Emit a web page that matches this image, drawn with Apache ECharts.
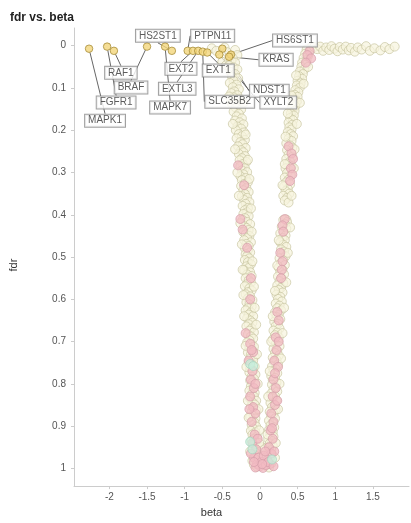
<!DOCTYPE html>
<html>
<head>
<meta charset="UTF-8">
<title>fdr vs. beta</title>
<script src="https://cdn.jsdelivr.net/npm/echarts@6.0.0/dist/echarts.min.js"></script>
<style>
html, body { margin: 0; padding: 0; background: #fff; }
#chart { width: 411px; height: 523px; }
</style>
</head>
<body>
<div id="chart"></div>
<script>
// labelled hits
var hitGenes = ['MAPK1', 'FGFR1', 'RAF1', 'BRAF', 'MAPK7', 'HS2ST1', 'PTPN11', 'EXT2', 'EXTL3', 'SLC35B2', 'EXT1', 'HS6ST1', 'KRAS', 'NDST1', 'XYLT2'];
var hitBeta = [-2.27, -2.03, -1.94, -1.50, -1.26, -1.17, -0.96, -0.89, -0.82, -0.76, -0.70, -0.385, -0.41, -0.50, -0.54];
var hitFdr = [0.007, 0.002, 0.012, 0.002, 0.002, 0.012, 0.012, 0.012, 0.012, 0.014, 0.016, 0.021, 0.026, 0.007, 0.021];

// other genes [beta, fdr]
var beigePts = [
  // near hits
  [-0.64,0.006],[-0.58,0.012],[-0.47,0.004],[-0.44,0.015],[-0.33,0.010],[-0.30,0.022],[-0.36,0.030],[-0.50,0.038],[-0.45,0.046],[-0.41,0.033],
  // left arm
  [-0.38,0.036],[-0.33,0.040],[-0.41,0.047],[-0.35,0.051],[-0.30,0.056],[-0.39,0.062],[-0.33,0.067],[-0.37,0.073],[-0.29,0.077],[-0.35,0.083],[-0.40,0.088],[-0.31,0.092],[-0.36,0.098],[-0.28,0.103],[-0.34,0.108],
  [-0.38,0.112],[-0.30,0.117],[-0.35,0.122],[-0.27,0.127],[-0.33,0.131],[-0.37,0.137],[-0.29,0.141],[-0.32,0.147],[-0.25,0.151],[-0.35,0.156],[-0.28,0.161],[-0.31,0.167],[-0.24,0.172],[-0.33,0.177],[-0.27,0.181],[-0.22,0.186],[-0.30,0.191],[-0.25,0.196],[-0.32,0.200],
  [-0.21,0.205],[-0.28,0.209],[-0.24,0.214],[-0.31,0.219],[-0.20,0.223],[-0.26,0.228],[-0.23,0.233],[-0.29,0.238],[-0.19,0.242],[-0.25,0.247],[-0.22,0.252],[-0.28,0.256],[-0.20,0.261],[-0.24,0.266],[-0.27,0.271],[-0.18,0.275],[-0.23,0.280],[-0.26,0.285],[-0.20,0.290],[-0.24,0.295],[-0.17,0.299],
  [-0.22,0.304],[-0.26,0.309],[-0.19,0.313],[-0.24,0.318],[-0.16,0.323],[-0.21,0.327],[-0.25,0.332],[-0.18,0.337],[-0.22,0.342],[-0.15,0.346],[-0.20,0.351],[-0.24,0.356],[-0.17,0.360],[-0.21,0.365],[-0.14,0.370],[-0.19,0.374],[-0.23,0.379],[-0.16,0.384],[-0.20,0.389],[-0.17,0.394],[-0.22,0.398],
  [-0.15,0.403],[-0.20,0.408],[-0.23,0.412],[-0.17,0.417],[-0.13,0.422],[-0.21,0.427],[-0.18,0.431],[-0.15,0.436],[-0.22,0.441],[-0.19,0.446],[-0.14,0.450],[-0.17,0.455],[-0.21,0.460],[-0.12,0.465],[-0.18,0.469],[-0.15,0.474],[-0.20,0.479],[-0.16,0.484],[-0.13,0.489],[-0.19,0.493],[-0.17,0.498],
  [-0.14,0.503],[-0.20,0.507],[-0.16,0.512],[-0.12,0.517],[-0.18,0.522],[-0.15,0.526],[-0.21,0.531],[-0.13,0.536],[-0.17,0.541],[-0.11,0.545],[-0.19,0.550],[-0.15,0.555],[-0.12,0.560],[-0.17,0.564],[-0.20,0.569],[-0.14,0.574],[-0.11,0.579],[-0.16,0.583],[-0.19,0.588],[-0.13,0.593],[-0.16,0.598],
  [-0.10,0.602],[-0.18,0.607],[-0.14,0.612],[-0.11,0.617],[-0.16,0.621],[-0.19,0.626],[-0.12,0.631],[-0.15,0.636],[-0.09,0.640],[-0.17,0.645],[-0.13,0.650],[-0.10,0.655],[-0.15,0.659],[-0.18,0.664],[-0.11,0.669],[-0.14,0.674],[-0.08,0.678],[-0.16,0.683],[-0.12,0.688],[-0.09,0.693],[-0.14,0.697],
  [-0.17,0.702],[-0.11,0.707],[-0.08,0.712],[-0.14,0.716],[-0.10,0.721],[-0.16,0.726],[-0.12,0.731],[-0.07,0.735],[-0.13,0.740],[-0.09,0.745],[-0.15,0.750],[-0.11,0.754],[-0.07,0.759],[-0.13,0.764],[-0.09,0.769],[-0.14,0.773],[-0.06,0.778],[-0.11,0.783],[-0.08,0.788],[-0.13,0.792],[-0.10,0.797],
  [-0.06,0.802],[-0.12,0.806],[-0.09,0.811],[-0.14,0.816],[-0.07,0.821],[-0.11,0.825],[-0.08,0.830],[-0.13,0.835],[-0.05,0.840],[-0.10,0.844],[-0.07,0.849],[-0.12,0.854],[-0.09,0.859],[-0.05,0.863],[-0.11,0.868],[-0.08,0.873],[-0.13,0.878],[-0.06,0.882],[-0.10,0.887],[-0.07,0.892],[-0.11,0.897],
  [-0.05,0.901],[-0.09,0.906],[-0.12,0.911],[-0.06,0.915],[-0.10,0.920],[-0.04,0.925],[-0.08,0.930],[-0.11,0.934],[-0.06,0.939],[-0.09,0.944],[-0.04,0.949],[-0.07,0.953],[-0.10,0.958],[-0.05,0.963],[-0.08,0.968],[-0.03,0.972],[-0.07,0.977],[-0.10,0.982],[-0.05,0.987],[-0.08,0.991],[-0.04,0.996],
  // left arm edges
  [-0.41,0.120],[-0.22,0.135],[-0.36,0.185],[-0.19,0.210],[-0.33,0.245],[-0.16,0.270],[-0.30,0.300],[-0.14,0.315],[-0.28,0.355],[-0.12,0.385],[-0.26,0.420],[-0.11,0.440],[-0.24,0.470],[-0.10,0.510],[-0.23,0.530],[-0.08,0.570],[-0.22,0.590],[-0.07,0.620],[-0.21,0.640],[-0.05,0.660],[-0.19,0.710],[-0.04,0.730],[-0.18,0.760],[-0.03,0.800],[-0.16,0.840],[-0.02,0.860],[-0.15,0.880],[-0.01,0.910],[-0.13,0.960],
  // right arm
  [0.68,0.004],[0.62,0.009],[0.66,0.014],[0.60,0.019],[0.64,0.024],[0.58,0.029],[0.62,0.034],[0.56,0.040],[0.61,0.045],[0.55,0.050],[0.59,0.056],[0.53,0.061],[0.57,0.067],[0.52,0.072],[0.56,0.078],[0.50,0.083],[0.54,0.089],[0.49,0.094],[0.53,0.099],
  [0.47,0.105],[0.51,0.110],[0.46,0.116],[0.50,0.121],[0.44,0.127],[0.49,0.132],[0.43,0.138],[0.47,0.143],[0.42,0.149],[0.46,0.154],[0.41,0.160],[0.45,0.165],[0.40,0.171],[0.44,0.176],[0.38,0.182],[0.43,0.187],[0.39,0.193],[0.42,0.198],
  [0.37,0.204],[0.41,0.209],[0.44,0.214],[0.38,0.220],[0.42,0.225],[0.35,0.231],[0.40,0.236],[0.43,0.241],[0.36,0.247],[0.41,0.252],[0.38,0.258],[0.43,0.263],[0.35,0.268],[0.40,0.274],[0.37,0.279],[0.42,0.285],[0.34,0.290],[0.39,0.295],
  [0.36,0.301],[0.41,0.306],[0.33,0.312],[0.38,0.317],[0.35,0.323],[0.40,0.328],[0.32,0.333],[0.37,0.339],[0.34,0.344],[0.39,0.350],[0.31,0.355],[0.36,0.360],[0.33,0.366],[0.38,0.371],
  [0.35,0.411],[0.31,0.412],[0.36,0.417],[0.33,0.422],[0.29,0.428],[0.35,0.433],[0.31,0.439],[0.27,0.444],[0.34,0.449],[0.30,0.455],[0.33,0.460],[0.27,0.465],[0.31,0.471],[0.35,0.476],[0.28,0.482],[0.32,0.487],[0.29,0.492],[0.34,0.498],
  [0.26,0.503],[0.31,0.508],[0.28,0.514],[0.33,0.519],[0.25,0.525],[0.30,0.530],[0.27,0.535],[0.32,0.541],[0.24,0.546],[0.29,0.551],[0.26,0.557],[0.31,0.562],[0.23,0.567],[0.28,0.573],[0.25,0.578],[0.30,0.584],[0.22,0.589],[0.27,0.594],[0.24,0.599],
  [0.29,0.605],[0.21,0.610],[0.26,0.615],[0.23,0.621],[0.28,0.626],[0.20,0.631],[0.25,0.637],[0.22,0.642],[0.27,0.647],[0.19,0.653],[0.24,0.658],[0.21,0.663],[0.26,0.669],[0.18,0.674],[0.23,0.679],[0.20,0.685],[0.25,0.690],[0.17,0.695],
  [0.24,0.701],[0.21,0.706],[0.26,0.711],[0.18,0.717],[0.23,0.722],[0.20,0.727],[0.25,0.733],[0.17,0.738],[0.22,0.743],[0.19,0.749],[0.24,0.754],[0.16,0.759],[0.21,0.765],[0.18,0.770],[0.23,0.775],[0.15,0.781],[0.20,0.786],[0.17,0.791],[0.22,0.797],
  [0.16,0.802],[0.21,0.807],[0.18,0.813],[0.23,0.818],[0.15,0.823],[0.20,0.829],[0.17,0.834],[0.22,0.839],[0.14,0.845],[0.19,0.850],[0.16,0.855],[0.21,0.861],[0.13,0.866],[0.18,0.871],[0.15,0.877],[0.20,0.882],[0.12,0.887],[0.17,0.893],[0.14,0.898],
  [0.19,0.903],[0.12,0.909],[0.17,0.914],[0.14,0.919],[0.18,0.925],[0.11,0.930],[0.16,0.935],[0.13,0.941],[0.17,0.946],[0.10,0.951],[0.15,0.957],[0.12,0.962],[0.16,0.967],[0.09,0.973],[0.14,0.978],[0.11,0.983],[0.15,0.989],[0.08,0.994],[0.12,0.998],
  // right arm edges
  [0.64,0.050],[0.48,0.070],[0.58,0.090],[0.42,0.118],[0.53,0.135],[0.37,0.160],[0.49,0.185],[0.34,0.215],[0.46,0.245],[0.33,0.280],[0.45,0.290],[0.30,0.330],[0.42,0.355],[0.40,0.430],[0.25,0.460],[0.37,0.490],[0.23,0.520],[0.35,0.560],[0.20,0.580],[0.32,0.620],[0.17,0.640],[0.30,0.680],[0.15,0.700],[0.28,0.740],[0.13,0.770],[0.26,0.800],[0.11,0.830],[0.24,0.860],[0.10,0.920],[0.21,0.940],[0.20,0.975],
  // bottom
  [0.03,0.950],[-0.01,0.940],[0.06,0.955],[0.13,0.975],
  // top right tail
  [0.72,0.003],[0.76,0.008],[0.80,0.002],[0.84,0.012],[0.88,0.004],[0.92,0.010],[0.95,0.001],[0.99,0.007],[1.03,0.013],[1.06,0.003],[1.10,0.009],[1.14,0.002],[1.18,0.011],[1.21,0.005],[1.26,0.014],[1.30,0.004],[1.35,0.009],[1.41,0.001],[1.46,0.012],[1.52,0.006],[1.60,0.011],[1.66,0.003],[1.72,0.008],[1.79,0.002]
];

var pinkPts = [
  [-0.29,0.283],[-0.26,0.410],[-0.23,0.435],[-0.17,0.478],[-0.13,0.600],[-0.19,0.680],[-0.12,0.550],[-0.21,0.330],
  [-0.13,0.705],[-0.09,0.725],[-0.15,0.745],[-0.10,0.770],[-0.12,0.790],[-0.08,0.810],[-0.13,0.830],[-0.09,0.855],[-0.06,0.870],[-0.11,0.890],[-0.07,0.920],[-0.10,0.940],[-0.05,0.955],[-0.08,0.975],[-0.04,0.990],
  [-0.14,0.860],[-0.06,0.800],[-0.11,0.720],[-0.03,0.930],[-0.12,0.965],
  [0.66,0.012],[0.63,0.022],[0.68,0.030],[0.61,0.040],
  [0.38,0.238],[0.42,0.255],[0.44,0.268],[0.41,0.290],[0.43,0.305],[0.40,0.320],
  [0.33,0.410],[0.30,0.425],[0.31,0.440],
  [0.27,0.490],[0.30,0.510],[0.29,0.530],[0.28,0.550],
  [0.23,0.630],[0.25,0.650],[0.21,0.690],
  [0.22,0.720],[0.19,0.745],[0.24,0.760],[0.18,0.790],[0.21,0.810],[0.17,0.830],[0.20,0.850],[0.15,0.870],[0.18,0.890],[0.14,0.910],[0.17,0.930],[0.12,0.950],[0.15,0.965],[0.10,0.980],[0.13,0.990],
  [0.25,0.700],[0.20,0.775],[0.23,0.840],[0.16,0.905],[0.19,0.960],
  [-0.02,0.975],[0.02,0.985],[0.05,0.970],[0.00,0.995],[0.04,0.999],[-0.06,0.998],[0.08,0.992],[0.11,0.985],[0.07,0.960],[0.03,0.990],[0.18,0.995],[-0.08,0.985]
];

var greenPts = [[-0.13,0.753],[-0.09,0.758],[-0.13,0.937],[0.16,0.979],[-0.10,0.955]];

var xTicks = [-2, -1.5, -1, -0.5, 0, 0.5, 1, 1.5];
var yTicks = [0, 0.1, 0.2, 0.3, 0.4, 0.5, 0.6, 0.7, 0.8, 0.9, 1];

// label box centre offsets from each hit, in px
var labelOffsets = [[16,72],[9,56],[7,22],[-16,41],[5,61],[-14,-15],[25,-15],[-12,18],[-21,38],[27,50],[11,18],[64,-14],[47,3],[47,42],[59,48]];

var hitData = [];
for (var i = 0; i < hitGenes.length; i++) {
  hitData.push({ name: hitGenes[i], value: [hitBeta[i], hitFdr[i]] });
}

var font = 'Liberation Sans, Arial, sans-serif';

var chart = echarts.init(document.getElementById('chart'));
chart.setOption({
  animation: false,
  title: {
    text: 'fdr vs. beta',
    left: 5, top: 7,
    textStyle: { fontSize: 12, fontWeight: 'bold', color: '#222', fontFamily: font }
  },
  grid: { left: 74, right: 2, top: 28, bottom: 31 },
  xAxis: {
    type: 'value', min: -2.47, max: 1.98,
    name: 'beta', nameLocation: 'middle', nameGap: 18,
    axisLine: { onZero: false, lineStyle: { color: '#cccccc' } },
    axisTick: { length: 3, lineStyle: { color: '#cccccc' }, customValues: xTicks },
    axisLabel: { color: '#555', fontSize: 10, fontFamily: font, margin: 6, customValues: xTicks },
    splitLine: { show: false },
    nameTextStyle: { color: '#333', fontSize: 11, fontFamily: font, padding: [0, 60, 0, 0] }
  },
  yAxis: {
    type: 'value', min: -0.042, max: 1.042, inverse: true,
    name: 'fdr', nameLocation: 'middle', nameGap: 55, nameRotate: 90,
    axisLine: { onZero: false, lineStyle: { color: '#cccccc' } },
    axisTick: { length: 3, lineStyle: { color: '#cccccc' }, customValues: yTicks },
    axisLabel: { color: '#555', fontSize: 10, fontFamily: font, margin: 8, customValues: yTicks },
    splitLine: { show: false },
    nameTextStyle: { color: '#333', fontSize: 11, fontFamily: font, padding: [0, 16, 0, 0] }
  },
  series: [{
    type: 'scatter', symbolSize: 9, data: beigePts, silent: true,
    itemStyle: { color: 'rgba(246,244,222,0.9)', borderColor: 'rgba(200,196,160,0.85)', borderWidth: 1 }
  }, {
    type: 'scatter', symbolSize: 9, data: pinkPts, silent: true,
    itemStyle: { color: 'rgba(242,186,195,0.95)', borderColor: 'rgba(214,160,170,0.9)', borderWidth: 1 }
  }, {
    type: 'scatter', symbolSize: 9, data: greenPts, silent: true,
    itemStyle: { color: 'rgba(200,238,219,0.95)', borderColor: 'rgba(168,214,192,0.9)', borderWidth: 1 }
  }, {
    type: 'scatter', symbolSize: 7.5, data: hitData, silent: true,
    itemStyle: { color: '#f2d67c', borderColor: '#a88d3a', borderWidth: 1 },
    label: {
      show: true, position: 'inside', formatter: '{b}',
      color: '#333', fontSize: 10, fontFamily: font, lineHeight: 10,
      backgroundColor: '#fff', borderColor: '#888', borderWidth: 1, padding: [1, 3, 1, 3]
    },
    labelLine: { show: true, lineStyle: { color: '#666', width: 1 } },
    labelLayout: function (params) {
      var off = labelOffsets[params.dataIndex];
      var r = params.rect;
      return {
        x: r.x + r.width / 2 + off[0],
        y: r.y + r.height / 2 + off[1],
        align: 'center', verticalAlign: 'middle'
      };
    }
  }]
});
</script>
</body>
</html>
